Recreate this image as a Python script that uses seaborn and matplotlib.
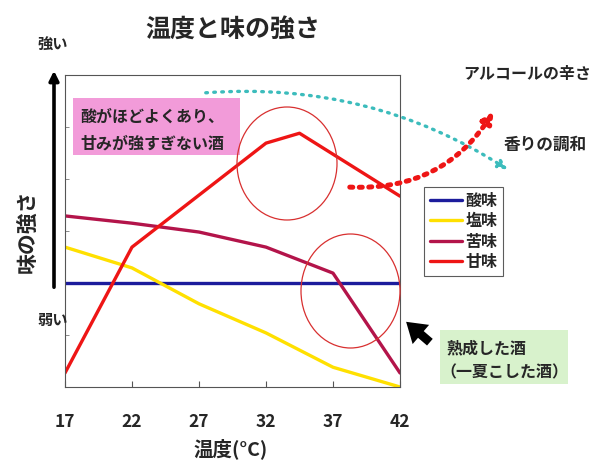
import pandas as pd
import numpy as np
import seaborn as sns
import matplotlib.pyplot as plt
from matplotlib.patches import Ellipse, Rectangle, FancyArrowPatch

# data (strength in grid units 0-6)
temps = [17, 22, 27, 32, 37, 42]
sour = [2.0, 2.0, 2.0, 2.0, 2.0, 2.0]
salty = [2.69, 2.29, 1.6, 1.04, 0.38, 0.0]
bitter = [3.29, 3.15, 2.98, 2.69, 2.19, 0.27]
sweet_temps = [17, 22, 27, 32, 34.5, 42]
sweet = [0.27, 2.69, 3.69, 4.69, 4.88, 3.67]

tastes = ["酸味", "塩味", "苦味", "甘味"]
colors = {"酸味": "#1c1c9c", "塩味": "#ffe000", "苦味": "#b3144a", "甘味": "#ee1515"}

rows = []
for t, v in zip(temps, sour):
    rows.append(("酸味", t, v))
for t, v in zip(temps, salty):
    rows.append(("塩味", t, v))
for t, v in zip(temps, bitter):
    rows.append(("苦味", t, v))
for t, v in zip(sweet_temps, sweet):
    rows.append(("甘味", t, v))
df = pd.DataFrame(rows, columns=["taste", "temp", "strength"])

sns.set_theme(style="white")
plt.rcParams['font.family'] = ['Noto Sans CJK JP', 'DejaVu Sans']


def fx(x):
    return x / 600


def fy(y):
    return 1 - y / 472


fig = plt.figure(figsize=(6, 4.72), dpi=100)
ax = fig.add_axes([fx(65), fy(387), fx(400) - fx(65), fy(75) - fy(387)])

sns.lineplot(data=df, x="temp", y="strength", hue="taste", hue_order=tastes,
             palette=colors, linewidth=2.4, ax=ax, legend=False)

ax.set_xlim(17, 42)
ax.set_ylim(0, 6)
ax.set_xticks(temps)
ax.set_xticklabels([str(t) for t in temps], fontsize=12.5, fontweight="bold")
ax.set_yticks(range(0, 7))
ax.set_yticklabels([])
ax.tick_params(axis="x", direction="in", length=4, width=0.8, color="#555555", pad=19, bottom=True)
ax.tick_params(axis="y", direction="in", length=3, width=0.6, color="#777777", left=True)
for s in ax.spines.values():
    s.set_color("#555555")
    s.set_linewidth(0.8)
ax.set_xlabel("")
ax.set_ylabel("")

# legend
handles = [plt.Line2D([], [], color=colors[k], lw=2.4) for k in tastes]
leg = ax.legend(handles, tastes, loc="upper left", bbox_to_anchor=(fx(424), fy(187)),
                bbox_transform=fig.transFigure, fancybox=False, edgecolor="#333333",
                prop={"weight": "bold", "size": 11.5}, handlelength=2.0,
                handletextpad=0.25, labelspacing=0.28, borderpad=0.35, borderaxespad=0)
leg.get_frame().set_linewidth(0.8)

# titles and labels
fig.text(fx(233), fy(30), "温度と味の強さ", ha="center", va="center", fontsize=18, fontweight="bold")
fig.text(fx(231), fy(449), "温度(°C)", ha="center", va="center", fontsize=14, fontweight="bold")
fig.text(fx(27), fy(231), "味の強さ", ha="center", va="center", rotation=90, fontsize=15, fontweight="bold")
fig.text(fx(53), fy(44), "強い", ha="center", va="center", fontsize=11, fontweight="bold")
fig.text(fx(53), fy(320), "弱い", ha="center", va="center", fontsize=11, fontweight="bold")
fig.text(fx(463), fy(74), "アルコールの辛さ", ha="left", va="center", fontsize=11.5, fontweight="bold")
fig.text(fx(504), fy(145), "香りの調和", ha="left", va="center", fontsize=12, fontweight="bold")

# boxes
fig.add_artist(Rectangle((fx(73), fy(155)), fx(240) - fx(73), fy(98) - fy(155),
                         transform=fig.transFigure, facecolor="#f29bd9", edgecolor="none"))
fig.text(fx(80), fy(117), "酸がほどよくあり、", ha="left", va="center", fontsize=11.5, fontweight="bold")
fig.text(fx(80), fy(144), "甘みが強すぎない酒", ha="left", va="center", fontsize=11.5, fontweight="bold")

fig.add_artist(Rectangle((fx(440), fy(384)), fx(568) - fx(440), fy(330) - fy(384),
                         transform=fig.transFigure, facecolor="#d8f2cc", edgecolor="none"))
fig.text(fx(446), fy(348), "熟成した酒", ha="left", va="center", fontsize=11.5, fontweight="bold")
fig.text(fx(440), fy(372), "（一夏こした酒）", ha="left", va="center", fontsize=11.5, fontweight="bold")

# circles
for cx, cy, w, h in [(287, 163.5, 100, 113), (350.5, 291, 99, 114)]:
    fig.add_artist(Ellipse((fx(cx), fy(cy)), w / 600, h / 472, transform=fig.transFigure,
                           facecolor="none", edgecolor="#d83030", lw=0.9))

# vertical strength arrow
fig.add_artist(FancyArrowPatch((fx(54), fy(290)), (fx(54), fy(68)), transform=fig.transFigure,
                               arrowstyle="-|>", mutation_scale=14, lw=2.6, color="black"))

# dotted trend arrows
fig.add_artist(FancyArrowPatch((fx(203), fy(93)), (fx(510), fy(171)), transform=fig.transFigure,
                               connectionstyle="arc3,rad=-0.17", arrowstyle="-|>", mutation_scale=13,
                               lw=2.4, ls=(0, (0.5, 1.9)), color="#3cbcbc"))
fig.add_artist(FancyArrowPatch((fx(347), fy(187)), (fx(495), fy(109)), transform=fig.transFigure,
                               connectionstyle="arc3,rad=0.3", arrowstyle="-|>", mutation_scale=16,
                               lw=3.6, ls=(0, (0.6, 1.3)), color="#ee1515"))

# black pointer arrow
fig.add_artist(FancyArrowPatch((fx(432), fy(344)), (fx(404), fy(320)), transform=fig.transFigure,
                               arrowstyle="simple,head_width=1.3,head_length=1.0,tail_width=0.45",
                               mutation_scale=14, color="black", lw=0))

fig.savefig("out.png", dpi=100)
